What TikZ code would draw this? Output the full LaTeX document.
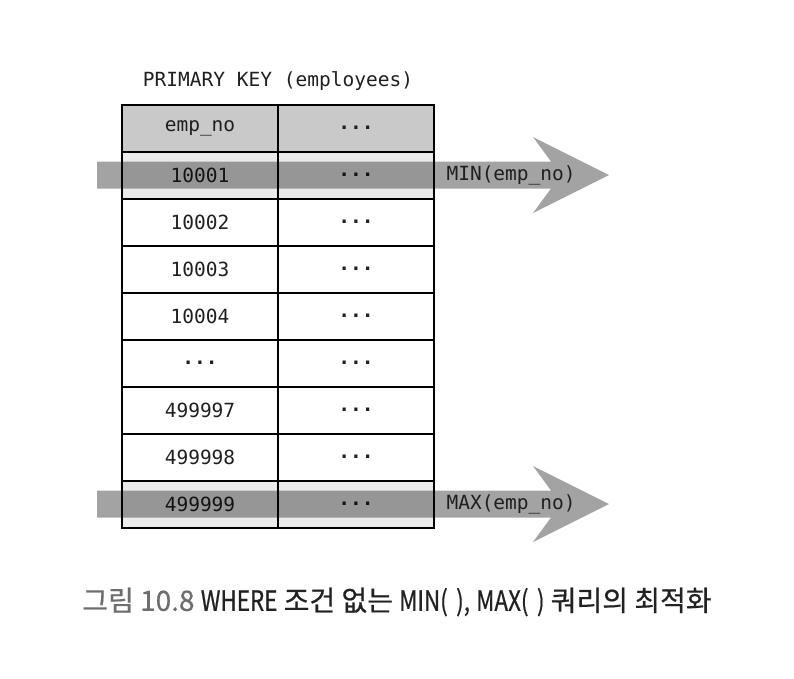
\documentclass[tikz,border=0pt]{standalone}
\usepackage{fontspec}
\setmonofont{DejaVu Sans Mono}
\newfontfamily\krfont[FakeBold=0.6]{Noto Sans CJK KR}
\newfontfamily\capnarrow[FakeBold=0.6, FakeStretch=0.8]{Noto Sans CJK KR}
\usepackage{tikz}
\usetikzlibrary{positioning}
\usetikzlibrary{calc}
\definecolor{hdrgray}{HTML}{C9C9C9}
\definecolor{selgray}{HTML}{EBEBEB}
\definecolor{capgray}{HTML}{6E6E6E}
\definecolor{captext}{HTML}{222222}
\newcommand{\dotsmark}{{\bfseries ...}}

\begin{document}
\begin{tikzpicture}
          [x=1pt, y=-1pt,
           every node/.style={font=\ttfamily\fontsize{19.5}{23}\selectfont, text=black!88},
           cell/.style={draw, line width=2pt, minimum width=156pt, minimum height=47pt,
                        inner sep=0pt, outer sep=0pt},
           scanbar/.style={fill=black, fill opacity=0.36}]
          \useasboundingbox (0,0) rectangle (794,678);

          \node (title) at (278,81) {PRIMARY KEY (employees)};

          \node (k0) [cell, fill=hdrgray] at (200,128) {emp\_no};
          \node (v0) [cell, fill=hdrgray, right = 0pt of k0] {\dotsmark};
          \node (k1) [cell, fill=selgray, below = 0pt of k0] {10001};
          \node (v1) [cell, fill=selgray, right = 0pt of k1] {\dotsmark};
          \node (k2) [cell, below = 0pt of k1] {10002};
          \node (v2) [cell, right = 0pt of k2] {\dotsmark};
          \node (k3) [cell, below = 0pt of k2] {10003};
          \node (v3) [cell, right = 0pt of k3] {\dotsmark};
          \node (k4) [cell, below = 0pt of k3] {10004};
          \node (v4) [cell, right = 0pt of k4] {\dotsmark};
          \node (k5) [cell, below = 0pt of k4] {\dotsmark};
          \node (v5) [cell, right = 0pt of k5] {\dotsmark};
          \node (k6) [cell, below = 0pt of k5] {499997};
          \node (v6) [cell, right = 0pt of k6] {\dotsmark};
          \node (k7) [cell, below = 0pt of k6] {499998};
          \node (v7) [cell, right = 0pt of k7] {\dotsmark};
          \node (k8) [cell, fill=selgray, below = 0pt of k7] {499999};
          \node (v8) [cell, fill=selgray, right = 0pt of k8] {\dotsmark};

          % scan arrows over first and last row
          \fill[scanbar] ($(k1.west)+(-25,-13.5)$) -- ($(v1.east)+(117,-13.5)$)
            -- ($(v1.east)+(99,-38)$) -- ($(v1.east)+(175,0)$) -- ($(v1.east)+(99,38)$)
            -- ($(v1.east)+(117,13.5)$) -- ($(k1.west)+(-25,13.5)$) -- cycle;
          \fill[scanbar] ($(k8.west)+(-25,-13.5)$) -- ($(v8.east)+(117,-13.5)$)
            -- ($(v8.east)+(99,-38)$) -- ($(v8.east)+(175,0)$) -- ($(v8.east)+(99,38)$)
            -- ($(v8.east)+(117,13.5)$) -- ($(k8.west)+(-25,13.5)$) -- cycle;

          \node (minlbl) [anchor=west] at ($(v1.east)+(9,0)$) {MIN(emp\_no)};
          \node (maxlbl) [anchor=west] at ($(v8.east)+(9,0)$) {MAX(emp\_no)};

          \node (caption) at (397,602) {\krfont\fontsize{28}{33}\selectfont
            \textcolor{capgray}{그림 10.8} \textcolor{captext}{{\capnarrow WHERE} 조건 없는
            {\capnarrow MIN(\hspace{0.3em}),} {\capnarrow MAX(\hspace{0.3em})} 쿼리의 최적화}};

        \end{tikzpicture}
\end{document}
